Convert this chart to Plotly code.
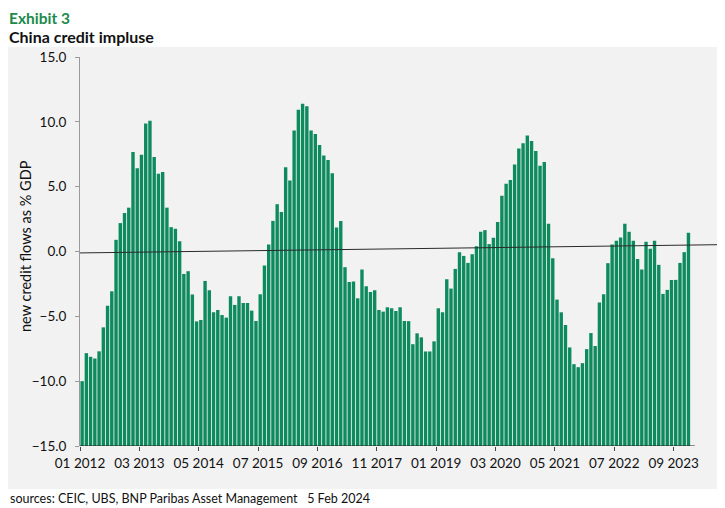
import numpy as np
import plotly.graph_objects as go

# ---- data (monthly, Jan 2012 - Dec 2023), % of GDP ----
impulse = [
    -10.0, -7.84, -8.12, -8.25, -7.7, -5.85, -4.18, -3.07, 0.9, 2.19, 2.96, 3.38,
    7.68, 6.42, 7.47, 9.87, 10.08, 7.29, 6.0, 6.13, 3.38, 1.88, 1.75, 0.8,
    -1.73, -1.52, -3.32, -5.39, -5.28, -2.27, -2.99, -4.69, -4.51, -4.9, -5.1, -3.45,
    -4.12, -3.45, -3.97, -3.97, -4.56, -5.36, -3.3, -1.08, 0.54, 2.36, 3.65, 3.04,
    6.5, 5.47, 9.33, 10.93, 11.39, 11.21, 9.33, 9.07, 8.22, 7.4, 7.06, 6.03,
    1.86, 2.35, -1.21, -2.35, -2.32, -3.61, -1.39, -2.68, -3.12, -2.99, -4.51, -4.64,
    -4.3, -4.38, -4.59, -4.3, -5.36, -5.37, -7.15, -6.31, -6.62, -7.71, -7.71, -6.93,
    -4.38, -4.69, -2.14, -2.86, -1.34, -0.05, -0.34, -0.88, -0.21, 0.41, 1.52, 1.65,
    0.57, 1.06, 2.27, 4.3, 5.23, 5.52, 6.7, 7.94, 8.35, 8.94, 8.53, 7.76,
    6.62, 6.91, 2.14, -0.52, -3.71, -4.69, -5.67, -7.4, -8.69, -8.92, -8.61, -7.53,
    -6.29, -7.29, -3.94, -3.3, -0.9, 0.54, 0.82, 1.08, 2.14, 1.52, 0.82, -0.57,
    -1.39, 0.75, 0.21, 0.82, -1.03, -3.27, -2.96, -2.19, -2.19, -0.88, -0.05, 1.44,
]
months = [f"{m:02d} {y}" for y in range(2012, 2024) for m in range(1, 13)]
tick_labels = ["01 2012", "03 2013", "05 2014", "07 2015", "09 2016", "11 2017",
               "01 2019", "03 2020", "05 2021", "07 2022", "09 2023"]
y_ticks = [-15, -10, -5, 0, 5, 10, 15]
# trend line end values (left edge, right edge)
trend_values = [-0.11, 0.53]

AXIS_MIN = -15
idx = np.arange(len(impulse))
tick_vals = [months.index(t) - 0.5 for t in tick_labels]

x_lo, x_hi = -0.5, 151.15
trend_x = [x_lo, x_hi]

GREEN = "#0e8a5f"
FONT = "Lato"

fig = go.Figure()
fig.add_trace(go.Bar(
    x=idx, y=[v - AXIS_MIN for v in impulse], base=AXIS_MIN,
    marker=dict(color=GREEN, line=dict(width=0)),
    customdata=impulse, hovertext=months,
    hovertemplate="%{hovertext}: %{customdata:.1f}<extra></extra>",
    showlegend=False,
))
fig.add_trace(go.Scatter(
    x=trend_x, y=trend_values, mode="lines",
    line=dict(color="#2a2a2a", width=1), showlegend=False, hoverinfo="skip",
))

# page body has an 8px margin: figure is sized so it fits the 725x508 window
OFF = 8
W, H = 725 - OFF, 508 - OFF
ml, mr, mt, mb = 80 - OFF, 2, 57 - OFF, 508 - 446
pw, ph = W - ml - mr, H - mt - mb
def px(xp):  # reference-page pixel -> paper x
    return (xp - OFF - ml) / pw
def py(yp):  # reference-page pixel -> paper y
    return (H - mb - (yp - OFF)) / ph

fig.update_layout(
    width=W, height=H,
    margin=dict(l=ml, r=mr, t=mt, b=mb, pad=0),
    paper_bgcolor="white", plot_bgcolor="#f2f2f2",
    bargap=0.2,
    font=dict(family=FONT, size=13, color="#222222"),
    xaxis=dict(
        range=[x_lo, x_hi], tickmode="array", tickvals=tick_vals, ticktext=tick_labels,
        ticks="outside", ticklen=4, tickcolor="#444444", showgrid=False, zeroline=False,
        showline=False, ticklabelstandoff=1, tickfont=dict(size=13.5, color="#111111"),
    ),
    yaxis=dict(
        range=[-15, 15], tickmode="array", tickvals=y_ticks, tickformat=".1f",
        ticks="outside", ticklen=4, tickcolor="#999999", showgrid=False, zeroline=False,
        showline=True, linecolor="#999999", linewidth=1, ticklabelstandoff=6,
        tickfont=dict(size=13.5, color="#111111"),
    ),
    shapes=[
        dict(type="rect", xref="paper", yref="paper", layer="below",
             x0=px(8), x1=px(723), y0=py(489), y1=py(47),
             fillcolor="#f2f2f2", line=dict(width=0)),
        dict(type="line", xref="x", yref="y", x0=x_lo, x1=144.5, y0=AXIS_MIN, y1=AXIS_MIN,
             line=dict(color="#222222", width=1)),
    ],
    annotations=[
        dict(text="<b>Exhibit 3</b>", xref="paper", yref="paper", x=px(8), y=py(8.5),
             xanchor="left", yanchor="top", showarrow=False, borderpad=0,
             font=dict(size=15.5, color="#1b8a4c", family=FONT)),
        dict(text="<b>China credit impluse</b>", xref="paper", yref="paper", x=px(8), y=py(36.5),
             xanchor="left", yanchor="middle", showarrow=False, borderpad=0,
             font=dict(size=16, color="#111111", family=FONT)),
        dict(text="new credit flows as % GDP", xref="paper", yref="paper",
             x=px(25), y=py(246), xanchor="center", yanchor="middle", textangle=-90,
             showarrow=False, font=dict(size=14.5, color="#111111", family=FONT)),
        dict(text="sources: CEIC, UBS, BNP Paribas Asset Management   5 Feb 2024",
             xref="paper", yref="paper", x=px(8), y=py(499),
             xanchor="left", yanchor="middle", showarrow=False,
             font=dict(size=12.5, color="#111111", family=FONT)),
    ],
)

fig.write_html("out.html")
